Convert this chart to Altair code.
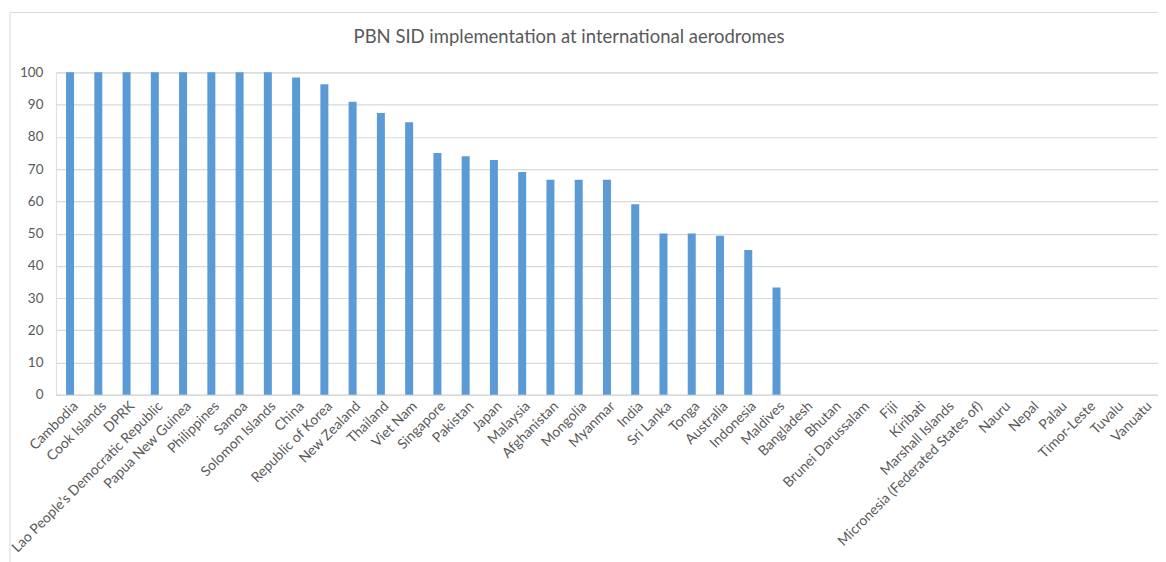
import altair as alt
import pandas as pd

title_text = "PBN SID implementation at international aerodromes"
countries = [
    "Cambodia", "Cook Islands", "DPRK", "Lao People’s Democratic Republic",
    "Papua New Guinea", "Philippines", "Samoa", "Solomon Islands", "China",
    "Republic of Korea", "New Zealand", "Thailand", "Viet Nam", "Singapore",
    "Pakistan", "Japan", "Malaysia", "Afghanistan", "Mongolia", "Myanmar",
    "India", "Sri Lanka", "Tonga", "Australia", "Indonesia", "Maldives",
    "Bangladesh", "Bhutan", "Brunei Darussalam", "Fiji", "Kiribati",
    "Marshall Islands", "Micronesia (Federated States of)", "Nauru", "Nepal",
    "Palau", "Timor-Leste", "Tuvalu", "Vanuatu",
]
values = [
    100, 100, 100, 100, 100, 100, 100, 100, 98.4,
    96.3, 90.9, 87.4, 84.5, 75.0,
    74.0, 72.8, 69.1, 66.7, 66.7, 66.7,
    59.1, 50.0, 50.0, 49.3, 44.9, 33.3,
    0, 0, 0, 0, 0,
    0, 0, 0, 0,
    0, 0, 0, 0,
]
y_ticks = [0, 10, 20, 30, 40, 50, 60, 70, 80, 90, 100]

df = pd.DataFrame({"country": countries, "value": values})

FONT = "Lato"
GREY = "#595959"
LINE = "#D9D9D9"

bars = alt.Chart(df).mark_bar(color="#5B9BD5").encode(
    x=alt.X(
        "country:N",
        sort=countries,
        scale=alt.Scale(paddingInner=0.717, paddingOuter=0.3585),
        axis=alt.Axis(
            title=None, labelAngle=-45, labelAlign="right", labelBaseline="top",
            labelFontSize=14, labelFont=FONT, labelColor=GREY, labelPadding=4,
            labelLimit=400, labelOverlap=False, ticks=False, domainColor=LINE,
            domainWidth=1.5, grid=False, labelOffset=1,
        ),
    ),
    y=alt.Y(
        "value:Q",
        scale=alt.Scale(domain=[0, 100], nice=False),
        axis=alt.Axis(
            title=None, values=y_ticks, labelFontSize=13.5, labelFont=FONT,
            labelColor=GREY, labelPadding=13, ticks=False, domain=False,
            grid=True, gridColor=LINE, gridWidth=1.2,
        ),
    ),
)

frame = alt.Data(values=[{"k": 1}])
left_border = alt.Chart(frame).mark_rule(color=LINE, strokeWidth=1).encode(
    x=alt.value(-46), y=alt.value(-60), y2=alt.value(500)
)
top_border = alt.Chart(frame).mark_rule(color=LINE, strokeWidth=1).encode(
    x=alt.value(-46), x2=alt.value(1120), y=alt.value(-60)
)
title = alt.Chart(frame).mark_text(
    font=FONT, fontSize=18.5, color=GREY, align="center", baseline="alphabetic"
).encode(text=alt.value(title_text), x=alt.value(514), y=alt.value(-29))

chart = alt.layer(left_border, top_border, title, bars).properties(
    width=1104,
    height=323,
    autosize=alt.AutoSizeParams(type="none"),
    padding={"left": 48, "top": 64, "right": 0, "bottom": 170},
).configure_view(stroke=None).configure(background="white")

chart.save("out.html", embed_options={"renderer": "svg", "actions": False})
